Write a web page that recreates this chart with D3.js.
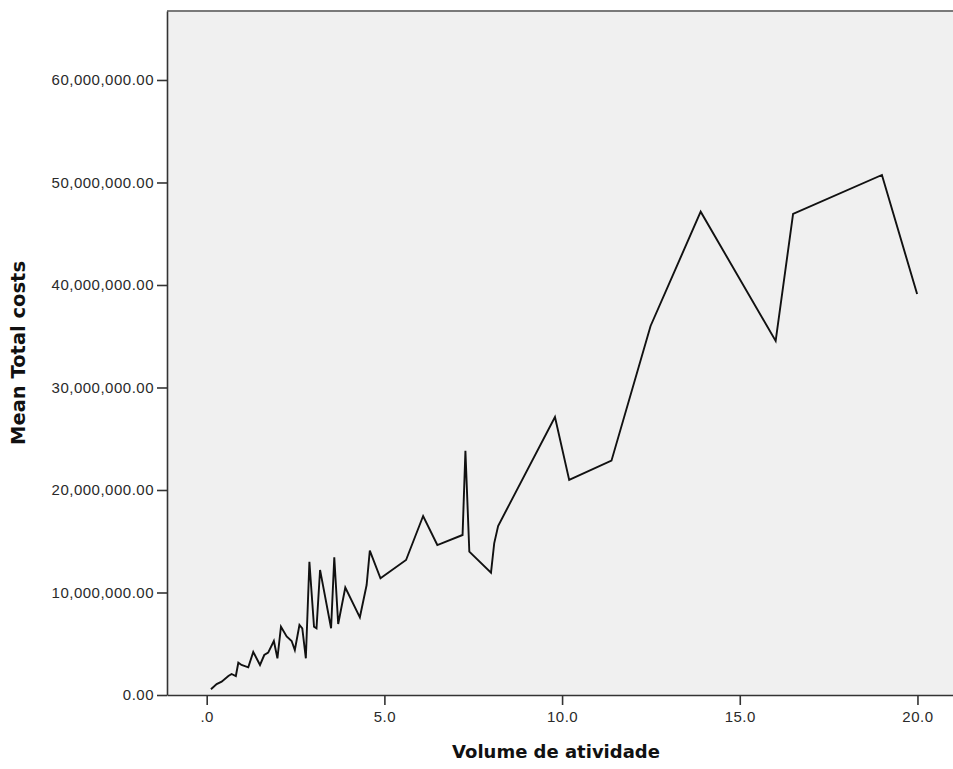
<!DOCTYPE html>
<html>
<head>
<meta charset="utf-8">
<script src="https://cdn.jsdelivr.net/npm/d3@7"></script>
<style>
  html, body { margin: 0; padding: 0; background: #ffffff; }
  svg { display: block; }
</style>
</head>
<body>
<svg id="chart" width="953" height="769"></svg>
<script>
// ---- data ----
const volume = [
  0.12, 0.28, 0.42, 0.61, 0.70, 0.82, 0.89, 0.98, 1.17, 1.31,
  1.50, 1.62, 1.73, 1.89, 1.99, 2.09, 2.25, 2.39, 2.48, 2.61,
  2.69, 2.79, 2.89, 3.02, 3.09, 3.19, 3.50, 3.59, 3.70, 3.90,
  4.31, 4.50, 4.59, 4.89, 5.61, 6.09, 6.49, 7.20, 7.28, 7.39,
  8.00, 8.09, 8.20, 9.80, 10.20, 11.39, 12.49, 13.90, 16.01, 16.50,
  19.00, 19.99
];
const meanTotalCosts = [
  0.56e6, 1.07e6, 1.30e6, 1.85e6, 2.05e6, 1.85e6, 3.15e6, 2.93e6, 2.70e6, 4.20e6,
  2.93e6, 3.90e6, 4.13e6, 5.27e6, 3.58e6, 6.66e6, 5.71e6, 5.27e6, 4.39e6, 6.83e6,
  6.49e6, 3.58e6, 13.0e6, 6.66e6, 6.51e6, 12.2e6, 6.51e6, 13.43e6, 6.93e6, 10.49e6,
  7.58e6, 10.73e6, 14.08e6, 11.39e6, 13.17e6, 17.46e6, 14.63e6, 15.61e6, 23.83e6, 13.98e6,
  11.93e6, 14.80e6, 16.49e6, 27.12e6, 20.98e6, 22.86e6, 36.0e6, 47.15e6, 34.54e6, 46.93e6,
  50.73e6, 39.12e6
];
const xTickValues = [0, 5, 10, 15, 20];
const xTickLabels = [".0", "5.0", "10.0", "15.0", "20.0"];
const yTickValues = [0, 10e6, 20e6, 30e6, 40e6, 50e6, 60e6];
const yTickLabels = ["0.00", "10,000,000.00", "20,000,000.00", "30,000,000.00",
                     "40,000,000.00", "50,000,000.00", "60,000,000.00"];
const xTitle = "Volume de atividade";
const yTitle = "Mean Total costs";

// ---- layout ----
const plot = { left: 167, top: 11, right: 953, bottom: 695 };
const svg = d3.select("#chart");

const x = d3.scaleLinear().domain([-1.117, 21.0]).range([plot.left, plot.right]);
const y = d3.scaleLinear().domain([0, 66.73e6]).range([plot.bottom, plot.top]);

// background
svg.append("rect")
  .attr("x", plot.left).attr("y", plot.top)
  .attr("width", plot.right - plot.left + 2).attr("height", plot.bottom - plot.top)
  .attr("fill", "#f0f0f0");

// top border
svg.append("line")
  .attr("x1", plot.left).attr("x2", plot.right + 2)
  .attr("y1", plot.top).attr("y2", plot.top)
  .attr("stroke", "#7a7a7a").attr("stroke-width", 2);

const tickFont = "'Liberation Sans', Arial, sans-serif";
const titleFont = "'DejaVu Sans', 'Liberation Sans', Arial, sans-serif";

// y axis
const yAxis = d3.axisLeft(y)
  .tickValues(yTickValues)
  .tickFormat((d, i) => yTickLabels[i])
  .tickSize(10).tickSizeOuter(0).tickPadding(3);
const gy = svg.append("g").attr("transform", `translate(${plot.left},0)`).call(yAxis);
gy.select(".domain").attr("stroke", "#333").attr("stroke-width", 1.6);
gy.selectAll(".tick line").attr("stroke", "#333").attr("stroke-width", 1.6);
gy.selectAll(".tick text").attr("font-family", tickFont).attr("font-size", 15)
  .attr("letter-spacing", "0.5px").attr("fill", "#2a2a2a");

// x axis
const xAxis = d3.axisBottom(x)
  .tickValues(xTickValues)
  .tickFormat((d, i) => xTickLabels[i])
  .tickSize(10).tickSizeOuter(0).tickPadding(6);
const gx = svg.append("g").attr("transform", `translate(0,${plot.bottom})`).call(xAxis);
gx.select(".domain").attr("stroke", "#333").attr("stroke-width", 1.6);
gx.selectAll(".tick line").attr("stroke", "#333").attr("stroke-width", 1.6);
gx.selectAll(".tick text").attr("font-family", tickFont).attr("font-size", 15)
  .attr("letter-spacing", "0.5px").attr("fill", "#2a2a2a");

// line
const pts = volume.map((v, i) => [v, meanTotalCosts[i]]);
svg.append("path")
  .datum(pts)
  .attr("fill", "none")
  .attr("stroke", "#111")
  .attr("stroke-width", 1.9)
  .attr("stroke-linejoin", "miter")
  .attr("d", d3.line().x(d => x(d[0])).y(d => y(d[1])));

// titles
svg.append("text")
  .attr("x", (plot.left + plot.right) / 2 - 4).attr("y", 758)
  .attr("text-anchor", "middle")
  .attr("font-family", titleFont).attr("font-weight", "bold").attr("font-size", 18)
  .attr("fill", "#111")
  .text(xTitle);

svg.append("text")
  .attr("transform", `translate(25,${(plot.top + plot.bottom) / 2}) rotate(-90)`)
  .attr("text-anchor", "middle")
  .attr("font-family", titleFont).attr("font-weight", "bold").attr("font-size", 19.5)
  .attr("fill", "#111")
  .text(yTitle);
</script>
</body>
</html>
